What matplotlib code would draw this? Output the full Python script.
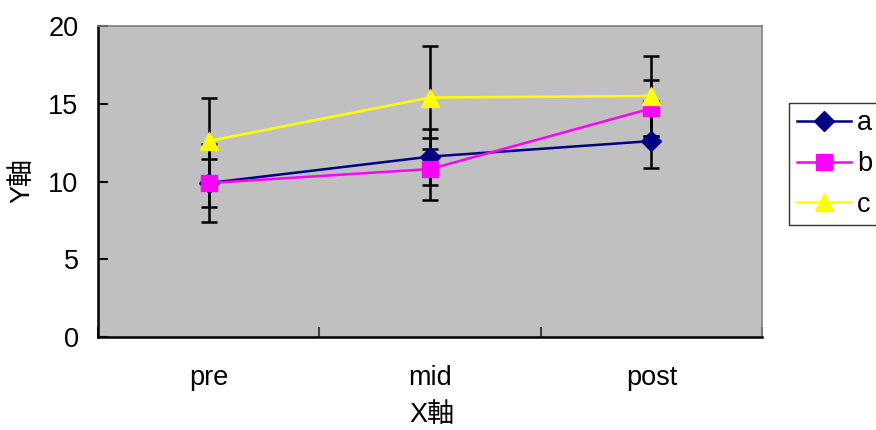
import matplotlib
matplotlib.use("Agg")
import matplotlib.pyplot as plt
import numpy as np

plt.rcParams['font.family'] = ['Liberation Sans', 'Noto Sans CJK JP', 'DejaVu Sans']

categories = ["pre", "mid", "post"]
a_vals = [9.9, 11.6, 12.6]
a_err = [1.55, 1.8, 1.7]
b_vals = [9.9, 10.8, 14.7]
b_err = [2.5, 2.0, 1.8]
c_vals = [12.6, 15.4, 15.5]
c_err = [2.75, 3.3, 2.6]

series = [
    ("a", a_vals, a_err, "#000080", "D", 10.5),
    ("b", b_vals, b_err, "#FF00FF", "s", 11.5),
    ("c", c_vals, c_err, "#FFFF00", "^", 12.5),
]

FS = 19.5

fig = plt.figure(figsize=(8.76, 4.30), dpi=100)
ax = fig.add_axes([98/876, 1-337/430, (762-98)/876, (337-26)/430])
ax.set_facecolor("#C0C0C0")

x = np.arange(len(categories)) + 0.5
for name, vals, err, col, mk, ms in series:
    ax.errorbar(x, vals, yerr=err, fmt='none', ecolor='black', elinewidth=1.8,
                capsize=6, capthick=1.8, zorder=2)
handles = []
for name, vals, err, col, mk, ms in series:
    h, = ax.plot(x, vals, color=col, lw=1.8, marker=mk, markersize=ms,
                 markerfacecolor=col, markeredgecolor=col, label=name, zorder=3)
    handles.append(h)

ax.set_xlim(0, 3)
ax.set_ylim(0, 20)
ax.set_yticks([0, 5, 10, 15, 20])
ax.set_xticks([0, 1, 2, 3])
ax.set_xticklabels([])
ax.set_xticks(x, minor=True)
ax.set_xticklabels(categories, minor=True)
ax.tick_params(axis='x', which='major', direction='in', length=7, width=1.5, color='#404040')
ax.tick_params(axis='x', which='minor', length=0, pad=20, labelsize=FS)
ax.tick_params(axis='y', direction='in', length=7, width=1.5, labelsize=FS, pad=14)

for side in ['left', 'bottom']:
    ax.spines[side].set_color('black')
    ax.spines[side].set_linewidth(1.8)
for side in ['top', 'right']:
    ax.spines[side].set_color('#808080')
    ax.spines[side].set_linewidth(1.2)

fig.text(432/876, 1-415/430, "X軸", ha='center', va='center', fontsize=FS)
fig.text(22/876, 1-180/430, "Y軸", ha='center', va='center', fontsize=FS, rotation=90)

leg = fig.legend(handles=handles, loc='center left', bbox_to_anchor=(789/876, 1-164/430),
                 frameon=True, fancybox=False, edgecolor='black', fontsize=FS,
                 handlelength=2.0, handletextpad=0.22, borderpad=0.28, labelspacing=0.55,
                 borderaxespad=0)
leg.get_frame().set_linewidth(1.0)
leg.get_frame().set_facecolor('white')

fig.savefig("out.png", dpi=100)
